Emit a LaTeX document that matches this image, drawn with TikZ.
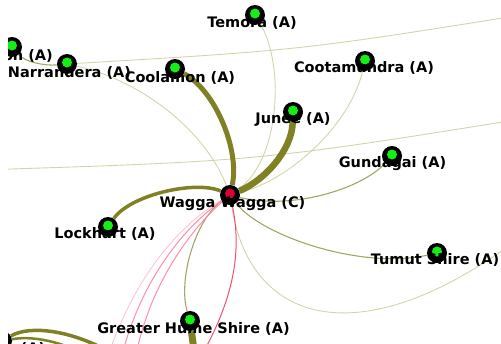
\documentclass[tikz,border=0pt]{standalone}
\usepackage{fontspec}
\setmainfont{DejaVu Sans}
\usetikzlibrary{positioning}

\definecolor{linkdark}{RGB}{128,128,36}
\definecolor{linkmid}{RGB}{165,165,100}
\definecolor{linkpale}{RGB}{212,212,172}
\definecolor{linkpink}{RGB}{255,140,170}
\definecolor{linklight}{RGB}{255,195,210}
\definecolor{linkred}{RGB}{240,80,115}
\definecolor{nodegreen}{RGB}{20,240,20}
\definecolor{nodered}{RGB}{220,0,50}

\pgfdeclarelayer{back}
\pgfsetlayers{back,main}

\begin{document}
\begin{tikzpicture}[x=1pt, y=-1pt, line cap=round]
	\tikzstyle{town} = [circle, fill=black, minimum size=20pt, inner sep=0pt,
		path picture={\fill[nodegreen] ([yshift=1.5pt]path picture bounding box.center) circle (5pt);}]
	\tikzstyle{hub} = [town,
		path picture={\fill[nodered] ([yshift=1.5pt]path picture bounding box.center) circle (5pt);}]
	\tikzstyle{tag} = [anchor=base, inner sep=0pt, font=\fontsize{14.5}{17}\selectfont\bfseries]
	\tikzstyle{thicklink} = [draw=linkdark]
	\tikzstyle{midlink} = [draw=linkmid, line width=1.1pt]
	\tikzstyle{palelink} = [draw=linkpale, line width=0.9pt]
	\tikzstyle{pinklink} = [draw=linkpink, line width=1pt]

	\useasboundingbox (0,0) rectangle (501,343);
	\clip (8,0) rectangle (501,343);

	% towns
	\node[town] (leeton) at (12,47) {};
	\node[town] (narrandera) at (67,64) {};
	\node[town] (coolamon) at (175,69) {};
	\node[town] (temora) at (255,15) {};
	\node[town] (cootamundra) at (365,61) {};
	\node[town] (junee) at (293,112) {};
	\node[town] (gundagai) at (392,156) {};
	\node[hub] (wagga) at (230,195) {};
	\node[town] (lockhart) at (108,227) {};
	\node[town] (tumut) at (437,253) {};
	\node[town] (hume) at (190,321) {};
	\node[town] (urana) at (2,341) {};

	% ends outside the frame
	\coordinate (far-ne) at (540,12);
	\coordinate (far-w) at (-20,170);
	\coordinate (far-e) at (540,116);
	\coordinate (far-se) at (540,222);
	\coordinate (far-s) at (196,365);
	\coordinate (far-sa) at (122,355);
	\coordinate (far-sb) at (136,355);
	\coordinate (far-sc) at (110,350);
	\coordinate (far-sw) at (110,352);
	\coordinate (far-sv) at (80,352);

	\begin{pgfonlayer}{back}
		\clip (8,0) rectangle (501,343);
		% lines passing through
		\draw[palelink] (narrandera) .. controls (303,50) .. (far-ne);
		\draw[palelink] (far-w) .. controls (260,161) .. (far-e);
		\draw[palelink] (wagga) .. controls (250,330) and (370,360) .. (far-se);
		\draw[midlink] (leeton) .. controls (25,62) and (45,66) .. (narrandera);

		% links of Wagga Wagga
		\draw[palelink] (narrandera) .. controls (140,80) and (205,130) .. (wagga);
		\draw[palelink] (temora) .. controls (285,65) and (280,160) .. (wagga);
		\draw[palelink] (cootamundra) .. controls (350,125) and (290,180) .. (wagga);
		\draw[midlink] (wagga) .. controls (290,210) and (360,190) .. (gundagai);
		\draw[midlink] (wagga) .. controls (260,235) and (360,270) .. (tumut);
		\draw[midlink] (wagga) .. controls (195,220) and (178,280) .. (hume);
		\draw[thicklink, line width=5pt] (coolamon) .. controls (215,90) and (240,150) .. (wagga);
		\draw[thicklink, line width=6.5pt] (junee) .. controls (292,150) and (265,180) .. (wagga);
		\draw[thicklink, line width=3.5pt] (lockhart) .. controls (130,195) and (195,180) .. (wagga);

		% pink links
		\draw[draw=linklight, line width=0.9pt] (wagga) .. controls (175,228) and (135,280) .. (far-sc);
		\draw[pinklink] (wagga) .. controls (180,230) and (140,285) .. (far-sa);
		\draw[pinklink] (wagga) .. controls (190,230) and (150,285) .. (far-sb);
		\draw[draw=linkred, line width=1pt] (wagga) .. controls (242,250) and (235,300) .. (far-s);

		% links to the south
		\draw[thicklink, line width=7pt] (hume) -- (far-s);
		\draw[thicklink, line width=3.5pt] (urana) .. controls (30,325) and (70,330) .. (far-sw);
		\draw[thicklink, line width=2.5pt] (urana) .. controls (30,336) and (55,340) .. (far-sv);
	\end{pgfonlayer}

	% names
	\node[tag, xshift=-2pt, yshift=-13pt] (leeton-tag) at (leeton) {Leeton (A)};
	\node[tag, xshift=2.5pt, yshift=-13pt] (narrandera-tag) at (narrandera) {Narrandera (A)};
	\node[tag, xshift=5pt, yshift=-13pt] (coolamon-tag) at (coolamon) {Coolamon (A)};
	\node[tag, xshift=-3pt, yshift=-12pt] (temora-tag) at (temora) {Temora (A)};
	\node[tag, xshift=-1pt, yshift=-11pt] (cootamundra-tag) at (cootamundra) {Cootamundra (A)};
	\node[tag, xshift=0pt, yshift=-11pt] (junee-tag) at (junee) {Junee (A)};
	\node[tag, xshift=0.5pt, yshift=-11pt] (gundagai-tag) at (gundagai) {Gundagai (A)};
	\node[tag, xshift=2.5pt, yshift=-12pt] (wagga-tag) at (wagga) {Wagga Wagga (C)};
	\node[tag, xshift=-3pt, yshift=-11pt] (lockhart-tag) at (lockhart) {Lockhart (A)};
	\node[tag, xshift=-2pt, yshift=-11pt] (tumut-tag) at (tumut) {Tumut Shire (A)};
	\node[tag, xshift=3.5pt, yshift=-12pt] (hume-tag) at (hume) {Greater Hume Shire (A)};
	\node[tag, xshift=4pt, yshift=-12pt] (urana-tag) at (urana) {Urana (A)};
\end{tikzpicture}
\end{document}
